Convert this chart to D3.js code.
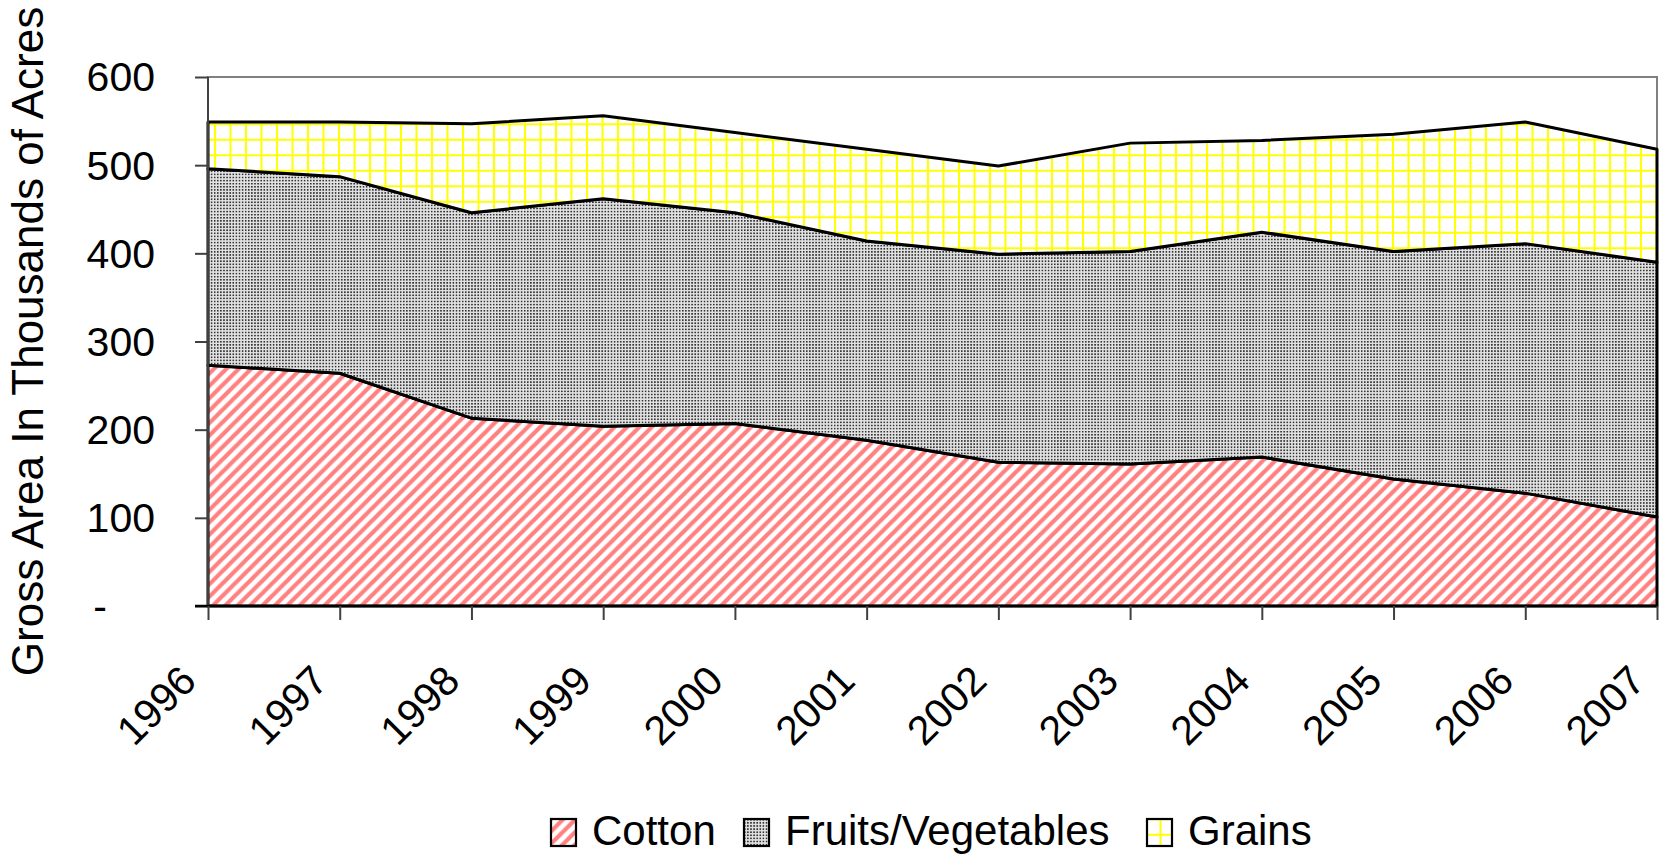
<!DOCTYPE html>
<html>
<head>
<meta charset="utf-8">
<title>Gross Area</title>
<script src="https://d3js.org/d3.v7.min.js"></script>
<style>
    body { margin: 0; background: #fff; }
    text { font-family: "Liberation Sans", Arial, sans-serif; fill: #000; }
</style>
</head>
<body>
<script>
// values, thousands of acres
var years = ["1996","1997","1998","1999","2000","2001","2002","2003","2004","2005","2006","2007"];
var cotton = [273, 264, 213, 204, 207, 188, 163, 161, 169, 144, 128, 101];
var fruitsVeg = [223, 223, 233, 258, 239, 226, 236, 241, 255, 258, 283, 289];
var grains = [53, 62, 101, 94, 91, 104, 100, 123, 104, 133, 138, 128];
var seriesNames = ["Cotton", "Fruits/Vegetables", "Grains"];
var yTicks = [0, 100, 200, 300, 400, 500, 600];

var width = 1659, height = 856;
var plotLeft = 208, plotRight = 1657, plotTop = 77, plotBottom = 606;

var svg = d3.select("body").append("svg")
    .attr("width", width)
    .attr("height", height);

// fill patterns
var defs = svg.append("defs");

var p = 12.4;
var pCotton = defs.append("pattern")
    .attr("id", "pat0")
    .attr("patternUnits", "userSpaceOnUse")
    .attr("width", p).attr("height", p);
pCotton.append("rect").attr("width", p).attr("height", p).attr("fill", "#fff");
pCotton.append("path")
    .attr("d", "M" + (-p/2) + "," + (p/2) + "L" + (p/2) + "," + (-p/2) +
               "M0," + p + "L" + p + ",0" +
               "M" + (p/2) + "," + (p*1.5) + "L" + (p*1.5) + "," + (p/2))
    .attr("stroke", "#ff8080")
    .attr("stroke-width", 4.2);

var pFruit = defs.append("pattern")
    .attr("id", "pat1")
    .attr("patternUnits", "userSpaceOnUse")
    .attr("width", 3.1).attr("height", 3.1);
pFruit.append("rect").attr("width", 3.1).attr("height", 3.1).attr("fill", "#e2e2e2");
pFruit.append("rect").attr("width", 1.6).attr("height", 1.6).attr("fill", "#333");

var g = 15.5;
var pGrain = defs.append("pattern")
    .attr("id", "pat2")
    .attr("patternUnits", "userSpaceOnUse")
    .attr("x", 215 - 1).attr("y", 124.3 - 1)
    .attr("width", g).attr("height", g);
pGrain.append("rect").attr("width", g).attr("height", g).attr("fill", "#fff");
pGrain.append("path")
    .attr("d", "M1,0V" + g + "M0,1H" + g)
    .attr("stroke", "#ffff00")
    .attr("stroke-width", 2);

var xScale = d3.scalePoint().domain(years).range([plotLeft, plotRight]);
var yScale = d3.scaleLinear().domain([0, 600]).range([plotBottom, plotTop]);

var table = years.map(function(y, i) {
    return { year: y, Cotton: cotton[i], "Fruits/Vegetables": fruitsVeg[i], Grains: grains[i] };
});
var stacked = d3.stack().keys(seriesNames)(table);

// plot frame
svg.append("rect")
    .attr("x", plotLeft).attr("y", plotTop)
    .attr("width", plotRight - plotLeft).attr("height", plotBottom - plotTop)
    .attr("fill", "none")
    .attr("stroke", "#808080")
    .attr("stroke-width", 2);

var area = d3.area()
    .x(function(d) { return xScale(d.data.year); })
    .y0(function(d) { return yScale(d[0]); })
    .y1(function(d) { return yScale(d[1]); });

svg.selectAll("path.layer").data(stacked).enter().append("path")
    .attr("class", "layer")
    .attr("d", area)
    .attr("fill", function(d, i) { return "url(#pat" + i + ")"; })
    .attr("stroke", "#000")
    .attr("stroke-width", 3)
    .attr("stroke-linejoin", "round");

// y axis
var yAxis = svg.append("g")
    .attr("transform", "translate(" + plotLeft + ",0)")
    .call(d3.axisLeft(yScale).tickValues(yTicks).tickSize(13).tickPadding(40)
        .tickFormat(function(d) { return d === 0 ? "-" : d; }));
yAxis.select(".domain").attr("stroke", "#404040").attr("stroke-width", 2)
    .attr("d", "M0," + plotBottom + "V" + plotTop);
yAxis.selectAll(".tick line").attr("stroke", "#404040").attr("stroke-width", 2);
yAxis.selectAll(".tick text")
    .attr("font-size", 41)
    .attr("font-family", "Liberation Sans, Arial, sans-serif")
    .attr("x", function(d) { return d === 0 ? -101 : -53; })
    .attr("dy", "0.34em");

// x axis
var xAxis = svg.append("g")
    .attr("transform", "translate(0," + plotBottom + ")")
    .call(d3.axisBottom(xScale).tickSize(14).tickPadding(0));
xAxis.select(".domain").attr("stroke", "#000").attr("stroke-width", 2.4)
    .attr("d", "M" + (plotLeft - 13) + ",0H" + plotRight);
xAxis.selectAll(".tick line").attr("stroke", "#404040").attr("stroke-width", 2);
xAxis.selectAll(".tick text")
    .attr("font-size", 41)
    .attr("font-family", "Liberation Sans, Arial, sans-serif")
    .attr("text-anchor", "end")
    .attr("y", 0).attr("dy", 0)
    .attr("transform", "translate(-10,77) rotate(-45)");

// y title
svg.append("text")
    .attr("transform", "translate(43," + ((plotTop + plotBottom) / 2) + ") rotate(-90)")
    .attr("text-anchor", "middle")
    .attr("font-size", 44)
    .text("Gross Area In Thousands of Acres");

// legend
var legendX = [551, 744, 1147];
var legend = svg.selectAll("g.leg").data(seriesNames).enter().append("g")
    .attr("class", "leg")
    .attr("transform", function(d, i) { return "translate(" + legendX[i] + ",819)"; });
legend.append("rect")
    .attr("width", 25).attr("height", 27)
    .attr("fill", function(d, i) { return "url(#pat" + i + ")"; })
    .attr("stroke", "#000").attr("stroke-width", 2.2);
legend.append("text")
    .attr("x", 41).attr("y", 26)
    .attr("font-size", 42)
    .text(function(d) { return d; });
</script>
</body>
</html>
